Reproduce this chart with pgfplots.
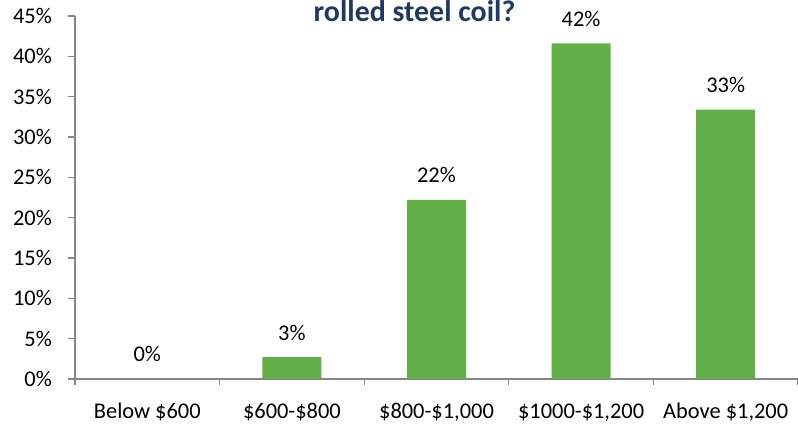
\documentclass[border=0pt]{standalone}
\usepackage{pgfplots}
\pgfplotsset{compat=1.18}
\usepackage{fontspec}
\setmainfont{Carlito}
\definecolor{barg}{RGB}{98,174,71}
\definecolor{axgray}{RGB}{134,134,134}
\definecolor{ttl}{RGB}{31,56,100}
\begin{document}
\begin{tikzpicture}
\begin{axis}[
  scale only axis=true,
  width=723bp, height=363bp,
  xmin=-0.5, xmax=4.5,
  ymin=0, ymax=45,
  axis x line=bottom, axis y line=left,
  axis line style={-, draw=axgray, line width=1.2bp},
  ybar, bar width=59bp,
  xtick={0,1,2,3,4},
  xticklabels={Below \$600,\$600-\$800,\$800-\$1{,}000,\$1000-\$1{,}200,Above \$1{,}200},
  minor xtick={-0.5,0.5,1.5,2.5,3.5,4.5},
  major x tick style={draw=none},
  minor x tick style={draw=axgray, line width=1.2bp},
  minor tick length=6bp,
  ytick={0,5,...,45},
  yticklabels={0\%,5\%,10\%,15\%,20\%,25\%,30\%,35\%,40\%,45\%},
  major y tick style={draw=axgray, line width=1.2bp},
  major tick length=7bp,
  tick align=outside,
  font=\fontsize{22.5}{27}\selectfont,
  yticklabel style={anchor=east, inner sep=0pt, xshift=-16bp},
  xticklabel style={anchor=base, inner sep=0pt, yshift=-33bp},
  /pgf/number format/assume math mode=true,
  nodes near coords={\pgfmathprintnumber[fixed,precision=0]{\pgfplotspointmeta}\%},
  nodes near coords style={anchor=base, inner sep=0pt, yshift=17bp, font=\fontsize{22.5}{27}\selectfont},
  clip=false,
]
\addplot[fill=barg, draw=none] coordinates {(0,0) (1,2.7) (2,22.2) (3,41.6) (4,33.4)};
\node[anchor=base, inner sep=0pt, font=\fontsize{30}{36}\selectfont\bfseries, text=ttl] at ([yshift=-6bp]rel axis cs:0.4696,1) {rolled steel coil?};
\end{axis}
\pgfresetboundingbox
\path[use as bounding box] ([shift={(-75bp,-45bp)}]current axis.south west) rectangle ([shift={(0bp,16bp)}]current axis.north east);
\end{tikzpicture}
\end{document}
